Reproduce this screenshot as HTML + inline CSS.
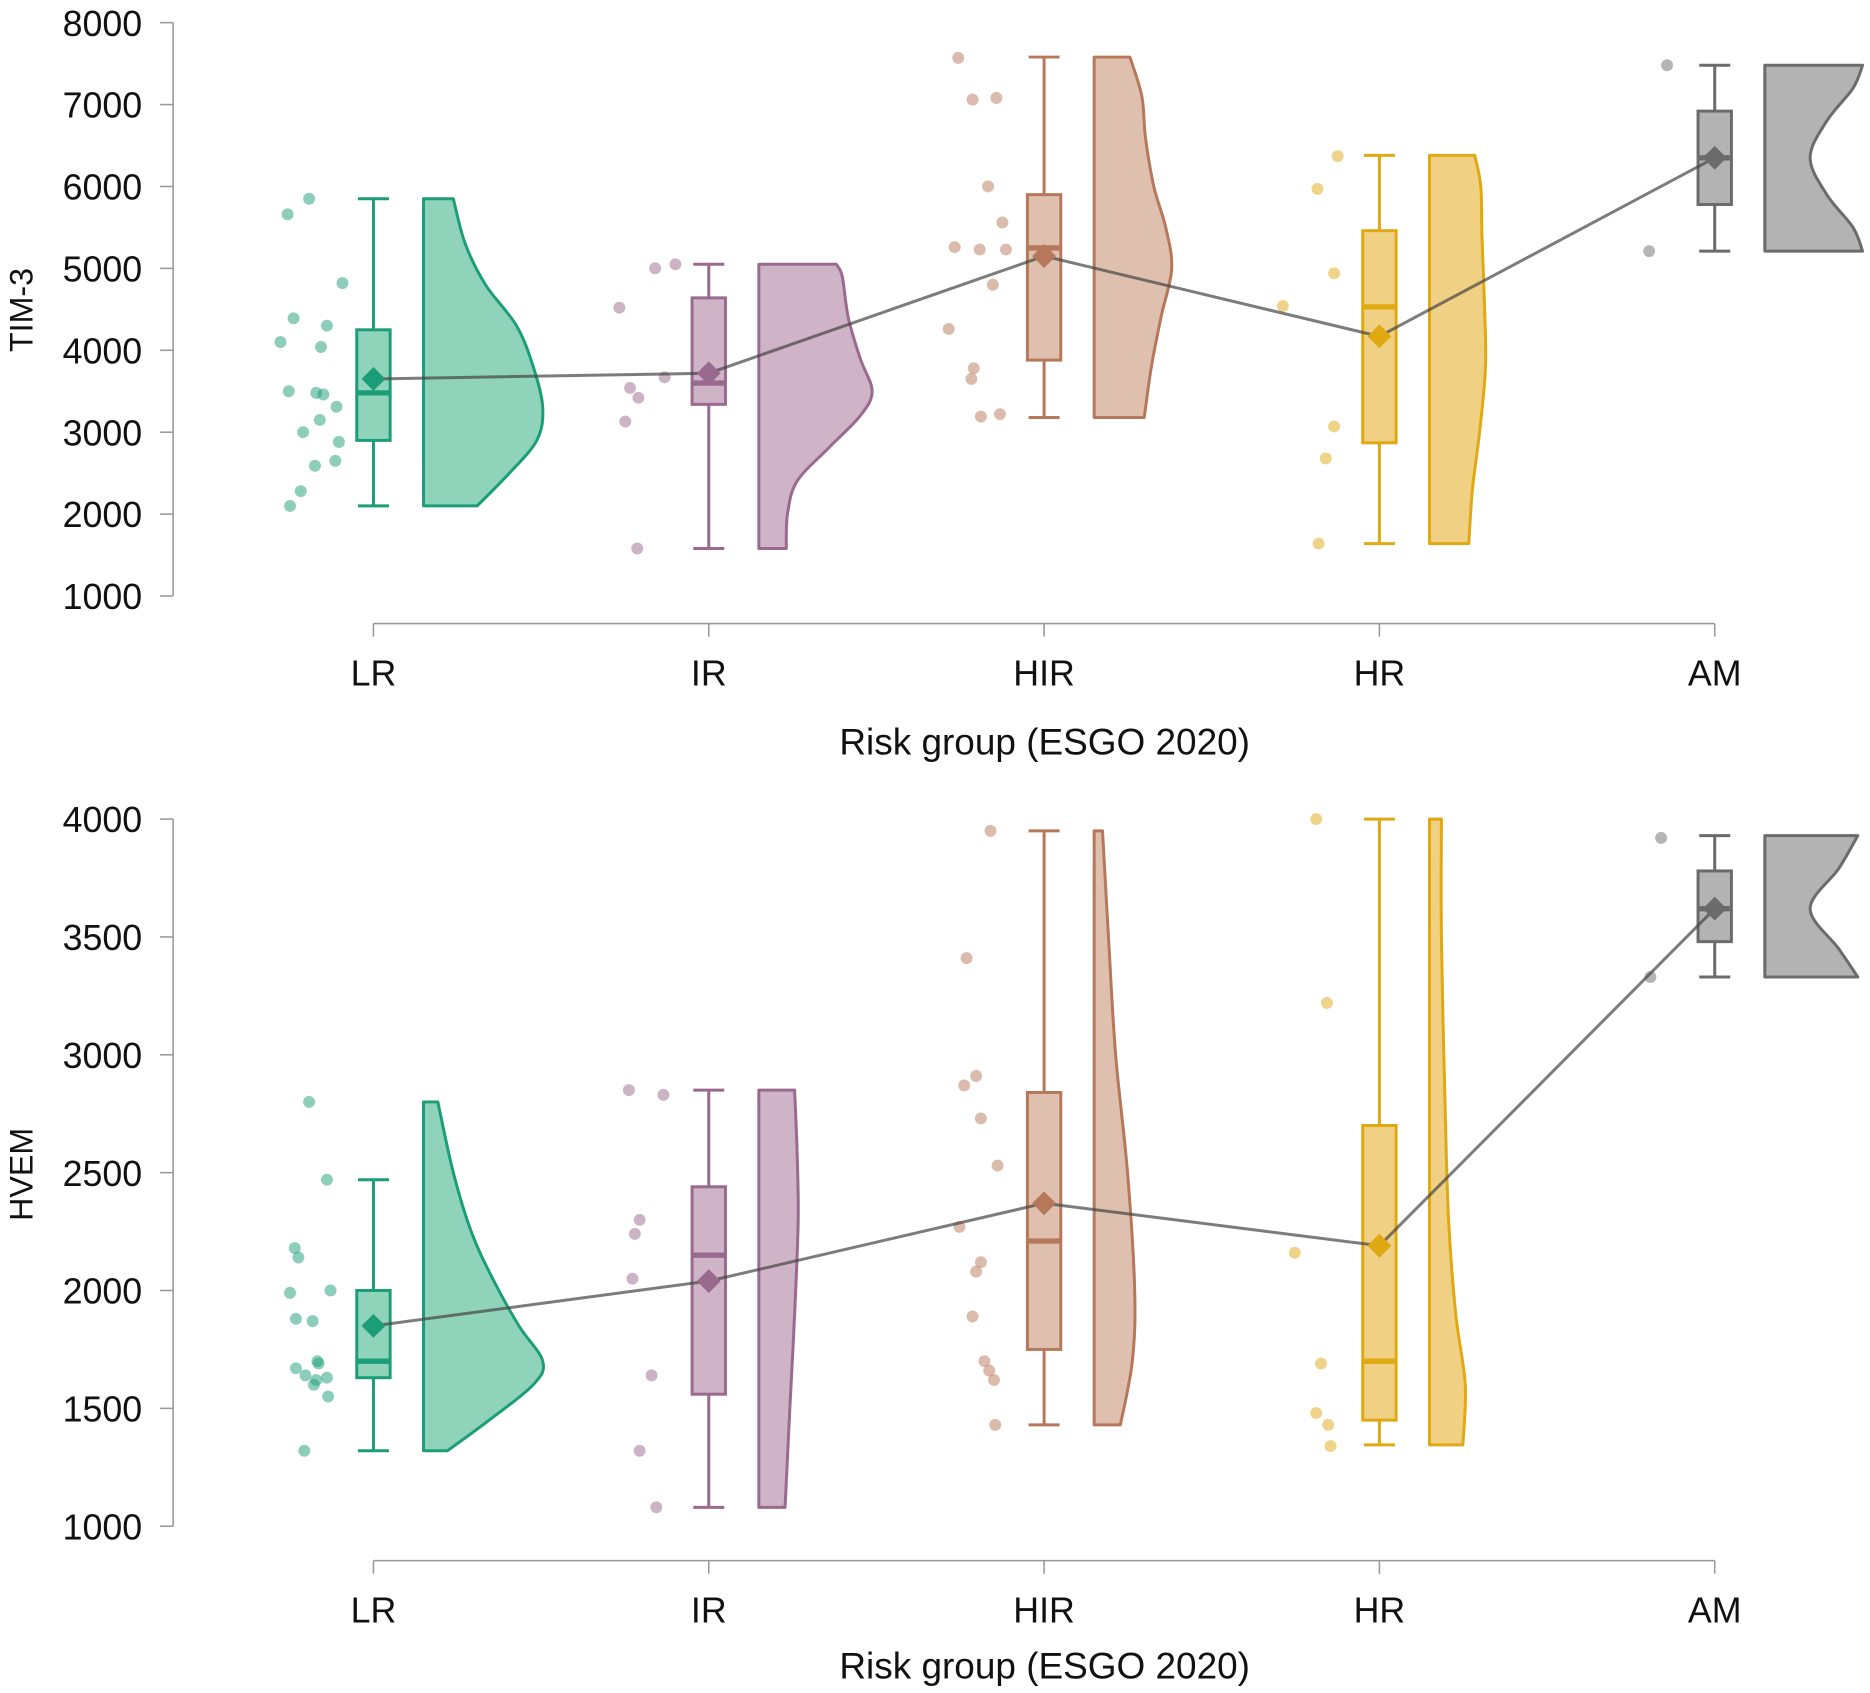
<!DOCTYPE html>
<html><head><meta charset="utf-8"><style>
html,body{margin:0;padding:0;background:#fff;}
svg{display:block;font-family:"Liberation Sans",Arial,sans-serif;}
</style></head><body>
<svg id="chart" width="1870" height="1693" viewBox="0 0 1568 1420" xmlns="http://www.w3.org/2000/svg"></svg>
<script>
const categories = ["LR","IR","HIR","HR","AM"];
const strokeColors = ["#1b9e77","#9a6a8e","#b5785a","#e0a812","#6b6b6b"];
const fillColors = ["#8fd3bb","#cfb3c7","#dfc0ae","#f0d183","#b3b3b3"];
// TIM-3 panel
const timWhiskerLo = [2100,1580,3180,1640,5210];
const timWhiskerHi = [5850,5050,7580,6380,7480];
const timQ1 = [2900,3340,3880,2870,5780];
const timQ3 = [4250,4640,5900,5460,6920];
const timMedian = [3480,3600,5250,4530,6350];
const timMean = [3650,3720,5150,4170,6350];
const timPoints = [
 [[-72,5660],[-54,5850],[-26,4820],[-67,4390],[-39,4300],[-78,4100],[-44,4040],[-71,3500],[-48,3480],[-42,3460],[-31,3310],[-45,3150],[-59,3000],[-29,2880],[-49,2590],[-32,2650],[-61,2280],[-70,2100]],
 [[-75,4520],[-45,5000],[-28,5050],[-37,3670],[-66,3540],[-59,3420],[-70,3130],[-60,1580]],
 [[-72,7570],[-60,7060],[-40,7080],[-47,6000],[-35,5560],[-75,5260],[-54,5230],[-32,5230],[-43,4800],[-80,4260],[-59,3780],[-61,3650],[-53,3190],[-37,3220]],
 [[-35,6370],[-52,5970],[-38,4940],[-81,4540],[-38,3070],[-45,2680],[-51,1640]],
 [[-40,7480],[-55,5210]]];
const timViolin = [
 [[2100,45],[2500,72],[2900,95],[3300,100],[3800,92],[4300,78],[4800,52],[5300,35],[5850,25]],
 [[1580,23],[2000,24],[2400,32],[2800,58],[3200,85],[3500,95],[3900,85],[4400,75],[4900,70],[5050,65]],
 [[3180,42],[3800,48],[4400,56],[5000,65],[5500,60],[6000,50],[6600,43],[7100,40],[7580,30]],
 [[1640,33],[2300,36],[3000,42],[3800,47],[4600,46],[5400,44],[6000,43],[6380,38]],
 [[5210,82],[5500,74],[5900,52],[6350,38],[6800,52],[7200,74],[7480,82]]];
const timTicks = [1000,2000,3000,4000,5000,6000,7000,8000];
// HVEM panel
const hvWhiskerLo = [1320,1080,1430,1345,3330];
const hvWhiskerHi = [2470,2850,3950,4000,3930];
const hvQ1 = [1630,1560,1750,1450,3480];
const hvQ3 = [2000,2440,2840,2700,3780];
const hvMedian = [1700,2150,2210,1700,3620];
const hvMean = [1850,2040,2370,2190,3620];
const hvPoints = [
 [[-54,2800],[-39,2470],[-66,2180],[-63,2140],[-70,1990],[-36,2000],[-65,1880],[-51,1870],[-65,1670],[-47,1700],[-46,1690],[-57,1640],[-48,1620],[-50,1600],[-39,1630],[-38,1550],[-58,1320]],
 [[-67,2850],[-38,2830],[-58,2300],[-62,2240],[-64,2050],[-48,1640],[-58,1320],[-44,1080]],
 [[-45,3950],[-65,3410],[-57,2910],[-67,2870],[-53,2730],[-71,2270],[-39,2530],[-53,2120],[-57,2080],[-60,1890],[-50,1700],[-46,1660],[-42,1620],[-41,1430]],
 [[-53,4000],[-44,3220],[-71,2160],[-49,1690],[-53,1480],[-43,1430],[-41,1340]],
 [[-45,3920],[-54,3330]]];
const hvViolin = [
 [[1320,20],[1450,55],[1600,92],[1700,100],[1850,80],[2050,58],[2250,40],[2500,25],[2800,12]],
 [[1080,22],[1500,26],[1900,30],[2300,33],[2600,32],[2850,30]],
 [[1430,22],[1700,32],[2000,34],[2500,28],[3000,18],[3500,12],[3950,7]],
 [[1345,28],[1600,30],[1900,22],[2300,16],[2800,13],[3500,10],[4000,10]],
 [[3330,78],[3450,62],[3620,38],[3790,62],[3930,78]]];
const hvTicks = [1000,1500,2000,2500,3000,3500,4000];

const NS="http://www.w3.org/2000/svg";
const svg=document.getElementById('chart');
function mk(tag,attrs,parent){const e=document.createElementNS(NS,tag);for(const k in attrs)e.setAttribute(k,attrs[k]);(parent||svg).appendChild(e);return e;}
const catX = i => 313 + i*281.25;
function smoothPath(pts){
 let d="";
 for(let i=0;i<pts.length-1;i++){
  const p0=pts[Math.max(i-1,0)],p1=pts[i],p2=pts[i+1],p3=pts[Math.min(i+2,pts.length-1)];
  const c1=[p1[0]+(p2[0]-p0[0])/6,p1[1]+(p2[1]-p0[1])/6],c2=[p2[0]-(p3[0]-p1[0])/6,p2[1]-(p3[1]-p1[1])/6];
  d+=` C${c1[0]},${c1[1]} ${c2[0]},${c2[1]} ${p2[0]},${p2[1]}`;
 }
 return d;
}
function panel(cfg){
 const g=mk('g',{});
 
 
 const y=v=>cfg.yTop+(cfg.vMax-v)*cfg.scale;
 const ya=mk('line',{x1:145,x2:145,y1:y(cfg.ticks[0]),y2:y(cfg.ticks[cfg.ticks.length-1]),stroke:'#999','stroke-width':1.3},g);
 
 cfg.ticks.forEach(t=>{
  const tl=mk('line',{x1:134,x2:145,y1:y(t),y2:y(t),stroke:'#999','stroke-width':1.3},g);
  
  const tx=mk('text',{x:119,y:y(t)+11,'text-anchor':'end','font-size':30,fill:'#111'},g);
  tx.textContent=t;
  
 });
 const yt=mk('text',{x:0,y:0,'text-anchor':'middle','font-size':27,fill:'#111',transform:`translate(27,${cfg.titleY}) rotate(-90)`},g);
 yt.textContent=cfg.title;
 
 const xa=mk('line',{x1:catX(0),x2:catX(4),y1:cfg.xAxisY,y2:cfg.xAxisY,stroke:'#999','stroke-width':1.3},g);
 
 categories.forEach((c,i)=>{
  const tl=mk('line',{x1:catX(i),x2:catX(i),y1:cfg.xAxisY,y2:cfg.xAxisY+11,stroke:'#999','stroke-width':1.3},g);
  
  const tx=mk('text',{x:catX(i),y:cfg.xAxisY+52,'text-anchor':'middle','font-size':30,fill:'#111'},g);
  tx.textContent=c;
  
 });
 const xt=mk('text',{x:876,y:cfg.xTitleY,'text-anchor':'middle','font-size':31,fill:'#111'},g);
 xt.textContent='Risk group (ESGO 2020)';
 
 categories.forEach((c,i)=>{
  const cx=catX(i),sc=strokeColors[i],fc=fillColors[i];
  cfg.points[i].forEach(p=>{
   const pt=mk('circle',{cx:cx+p[0],cy:y(p[1]),r:5,fill:sc,'fill-opacity':0.5},g);
   
  });
  const bx=cx+42;const prof=cfg.violin[i];
  const pts=prof.map(q=>[bx+q[1],y(q[0])]);
  let d=`M${bx},${y(prof[0][0])} L${pts[0][0]},${pts[0][1]}`+smoothPath(pts)+` L${bx},${y(prof[prof.length-1][0])} Z`;
  const vp=mk('path',{d:d,fill:fc,stroke:sc,'stroke-width':2.5,'stroke-linejoin':'round'},g);
  
  const wl=mk('line',{x1:cx,x2:cx,y1:y(cfg.wLo[i]),y2:y(cfg.wHi[i]),stroke:sc,'stroke-width':2.5},g);
  
  [cfg.wLo[i],cfg.wHi[i]].forEach(v=>{
   const cp=mk('line',{x1:cx-13,x2:cx+13,y1:y(v),y2:y(v),stroke:sc,'stroke-width':2.5},g);
   
  });
  const bxr=mk('rect',{x:cx-14,y:y(cfg.q3[i]),width:28,height:y(cfg.q1[i])-y(cfg.q3[i]),fill:fc,stroke:sc,'stroke-width':2.5},g);
  
  const md=mk('line',{x1:cx-14,x2:cx+14,y1:y(cfg.med[i]),y2:y(cfg.med[i]),stroke:sc,'stroke-width':4.5},g);
  
 });
 const mpts=cfg.mean.map((v,i)=>`${catX(i)},${y(v)}`).join(' ');
 const ml=mk('polyline',{points:mpts,fill:'none',stroke:'#444','stroke-opacity':0.7,'stroke-width':2.5},g);
 
 cfg.mean.forEach((v,i)=>{
  const cx=catX(i),cy=y(v);
  const dm=mk('polygon',{points:`${cx},${cy-10} ${cx+10},${cy} ${cx},${cy+10} ${cx-10},${cy}`,fill:strokeColors[i]},g);
  
 });
}
panel({name:'tim3-panel',title:'TIM-3',yTop:19,vMax:8000,scale:0.0687,ticks:timTicks,titleY:260,xAxisY:523,xTitleY:633,
 wLo:timWhiskerLo,wHi:timWhiskerHi,q1:timQ1,q3:timQ3,med:timMedian,mean:timMean,points:timPoints,violin:timViolin});
panel({name:'hvem-panel',title:'HVEM',yTop:687,vMax:4000,scale:0.1977,ticks:hvTicks,titleY:985,xAxisY:1309,xTitleY:1408,
 wLo:hvWhiskerLo,wHi:hvWhiskerHi,q1:hvQ1,q3:hvQ3,med:hvMedian,mean:hvMean,points:hvPoints,violin:hvViolin});
</script>
</body></html>
